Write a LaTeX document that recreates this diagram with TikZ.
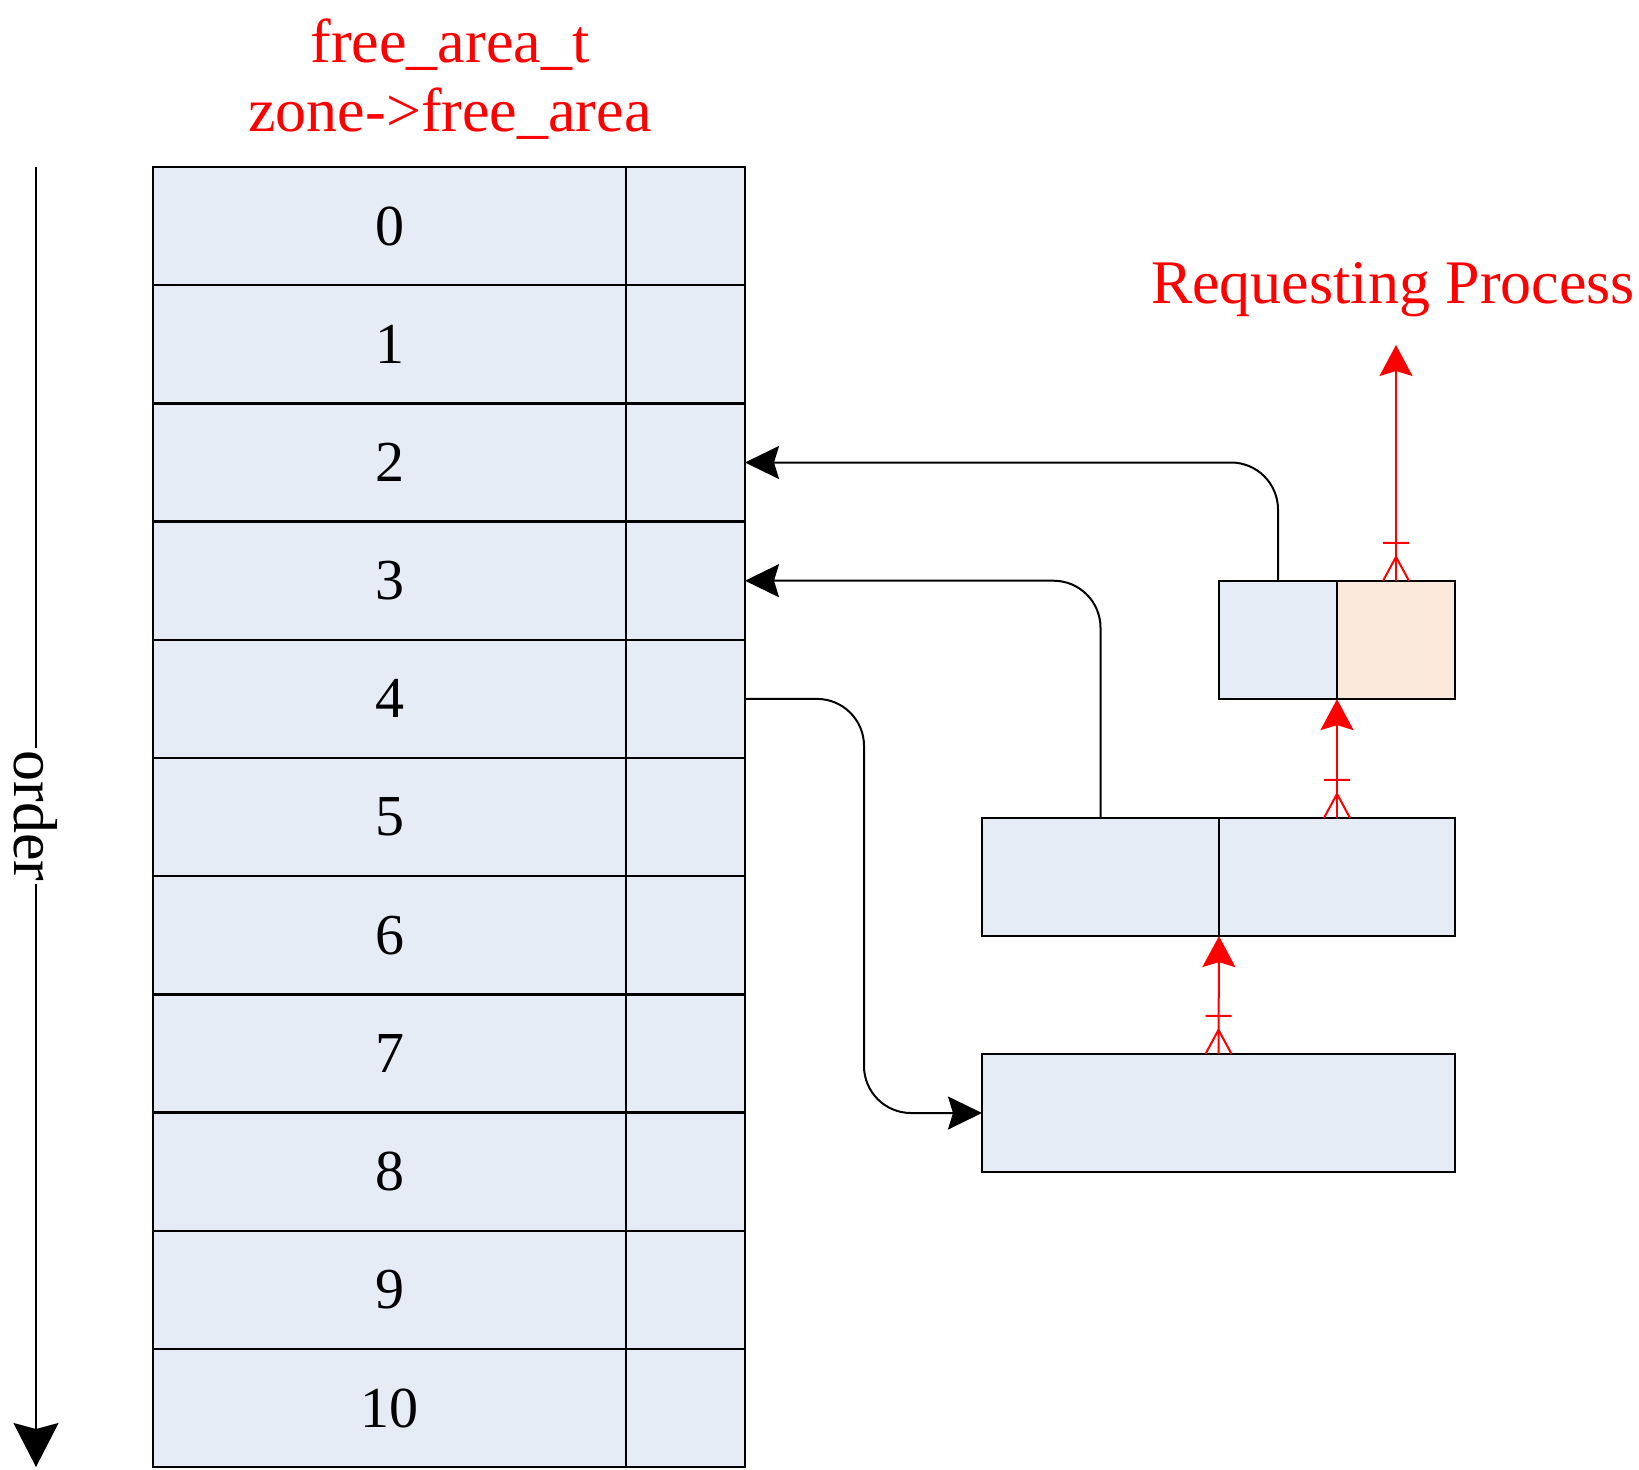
\documentclass[tikz,border=0pt]{standalone}
\usepackage{fontspec}
\setmainfont{Liberation Serif}
\usetikzlibrary{arrows.meta}
\definecolor{cellblue}{HTML}{E6ECF6}
\definecolor{cellpeach}{HTML}{FBE9DB}
\definecolor{lred}{HTML}{FF0000}
\tikzset{
  cell/.style={draw=black, line width=2.4pt, fill=cellblue, inner sep=0pt, outer sep=0pt, minimum height=118.2pt},
  numcell/.style={cell, minimum width=473pt, font=\fontsize{58}{60}\selectfont},
  ptrcell/.style={cell, minimum width=119pt},
  conn/.style={draw=black, line width=2pt, rounded corners=47pt, -{Stealth[length=34pt,width=33pt,inset=5pt]}},
  redconn/.style={draw=lred, line width=2pt, -{Stealth[length=31pt,width=33pt,inset=5pt]}},
  redtext/.style={text=lred, font=\fontsize{62}{68}\selectfont, inner sep=0pt},
  crow/.pic={\draw[lred, line width=2pt] (-13,0) -- (0,-24) -- (13,0) (-13,-38) -- (13,-38);}
}
\begin{document}
\begin{tikzpicture}[x=1pt,y=-1pt]
\useasboundingbox (0,0) rectangle (1639,1470);
% title
\node[redtext, anchor=base] (t1) at (450,62) {free\_area\_t};
\node[redtext, anchor=base] (t2) at (450,131) {zone->free\_area};
% order arrow
\coordinate (otop) at (36,167);
\coordinate (obot) at (36,1467);
\draw[line width=2pt, -{Stealth[length=44pt,width=45pt,inset=6pt]}] (otop) -- (obot);
\node[fill=white, rotate=-90, inner xsep=3pt, inner ysep=0pt, font=\fontsize{62}{64}\selectfont] (order) at (36,816) {order};
% table
\foreach \i in {0,...,10}{
  \node[numcell] (n\i) at (389.5,{167+118.2*\i+59.1}) {\i};
  \node[ptrcell] (p\i) at (685.5,{167+118.2*\i+59.1}) {};
}
% right boxes
\node[cell, minimum width=118pt] (Al) at (1278,640) {};
\node[cell, minimum width=118pt, fill=cellpeach] (Ar) at (1396,640) {};
\node[cell, minimum width=237pt] (Bl) at (1100.5,877) {};
\node[cell, minimum width=236pt] (Br) at (1337,877) {};
\node[cell, minimum width=473pt] (C) at (1218.5,1113) {};
% black connectors
\draw[conn] (Al.north) |- (p2.east);
\draw[conn] (Bl.north) |- (p3.east);
\draw[conn] (p4.east) -- ++(119,0) |- (C.west);
% red connectors
\coordinate (req) at (1396,345);
\node[redtext, anchor=base] (reqtext) at (1393,303) {Requesting Process};
\draw[redconn] (C.north) -- (Bl.south east);
\pic at (C.north) {crow};
\draw[redconn] (Br.north) -- (Ar.south west);
\pic at (Br.north) {crow};
\draw[redconn] (Ar.north) -- (req);
\pic at (Ar.north) {crow};
\end{tikzpicture}
\end{document}
